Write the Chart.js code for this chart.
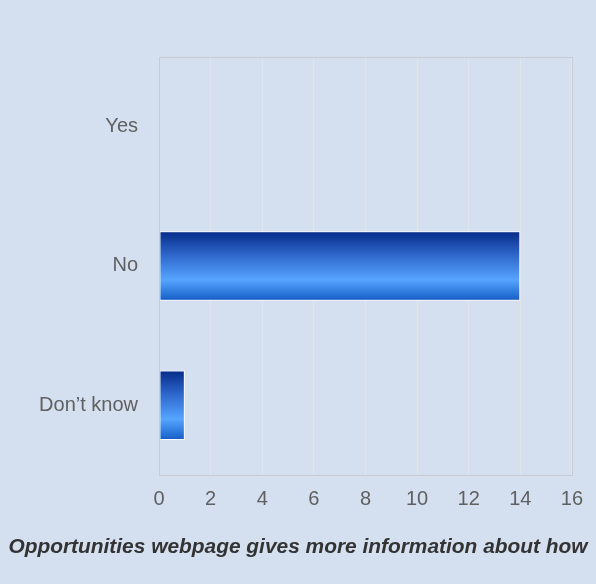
<!DOCTYPE html>
<html>
<head>
<meta charset="utf-8">
<script src="https://cdn.jsdelivr.net/npm/chart.js@4/dist/chart.umd.min.js"></script>
<style>
  html, body { margin: 0; padding: 0; background: #d4dff0; }
  #wrap { width: 596px; height: 584px; }
</style>
</head>
<body>
<div id="wrap"><canvas id="myChart" width="596" height="584"></canvas></div>
<script>
var answers = ['Yes', 'No', 'Don\u2019t know'];
var counts = [0, 14, 1];
var xTicks = [0, 2, 4, 6, 8, 10, 12, 14, 16];
var chartTitle = 'Opportunities webpage gives more information about how';

var barPct = 0.5;
var fontName = 'Liberation Sans, Arial, sans-serif';

// vertical gradient for each bar, worked out from the category scale
function barFill(c) {
    var chart = c.chart;
    var y = chart.scales.y;
    if (!y || !chart.chartArea || c.dataIndex === undefined) return '#3a78d8';
    var band = Math.abs(y.getPixelForValue(1) - y.getPixelForValue(0));
    var mid = y.getPixelForValue(c.dataIndex);
    var top = mid - band * barPct / 2, bot = mid + band * barPct / 2;
    var g = chart.ctx.createLinearGradient(0, top, 0, bot);
    g.addColorStop(0, '#052a88');
    g.addColorStop(0.35, '#2f68cc');
    g.addColorStop(0.7, '#56a5ff');
    g.addColorStop(1, '#135cc6');
    return g;
}

var frame = {
    id: 'frame',
    afterDraw: function(chart) {
        var a = chart.chartArea, ctx = chart.ctx;
        ctx.save();
        ctx.strokeStyle = '#c9cbd0';
        ctx.lineWidth = 1;
        ctx.strokeRect(Math.round(a.left) + 0.5, Math.round(a.top) + 0.5,
            Math.round(a.right - a.left), Math.round(a.bottom - a.top));
        ctx.restore();
    }
};

var ctx = document.getElementById('myChart').getContext('2d');
var chart = new Chart(ctx, {
    type: 'bar',
    data: {
        labels: answers,
        datasets: [{
            data: counts,
            backgroundColor: barFill,
            borderColor: '#ffffff',
            borderWidth: 1,
            borderSkipped: false,
            barPercentage: barPct,
            categoryPercentage: 1
        }]
    },
    options: {
        indexAxis: 'y',
        responsive: false,
        animation: false,
        layout: { padding: { left: 0, right: 0, top: 57, bottom: 24 } },
        plugins: {
            legend: { display: false },
            tooltip: { enabled: false },
            title: {
                display: true,
                text: chartTitle,
                position: 'bottom',
                color: '#333333',
                font: { family: fontName, size: 20.9, weight: 'bold', style: 'italic' },
                padding: { top: 20, bottom: 0 }
            }
        },
        scales: {
            x: {
                min: 0,
                max: 16,
                afterBuildTicks: function(axis) {
                    axis.ticks = xTicks.map(function(v) { return { value: v }; });
                },
                afterFit: function(axis) { axis.height = 40; },
                grid: { color: '#e3e4e6', drawTicks: false },
                border: { display: false },
                ticks: {
                    color: '#606060',
                    padding: 13,
                    font: { family: fontName, size: 20 }
                }
            },
            y: {
                afterFit: function(axis) { axis.width = 159; },
                grid: { display: false },
                border: { display: false },
                ticks: {
                    color: '#606060',
                    padding: 13,
                    font: { family: fontName, size: 20 }
                }
            },
            // empty axis on the right, only there to keep the plot off the edge
            gap: {
                type: 'linear',
                position: 'right',
                afterFit: function(axis) { axis.width = 24; },
                grid: { display: false },
                border: { display: false },
                ticks: { display: false }
            }
        }
    },
    plugins: [frame]
});
</script>
</body>
</html>
